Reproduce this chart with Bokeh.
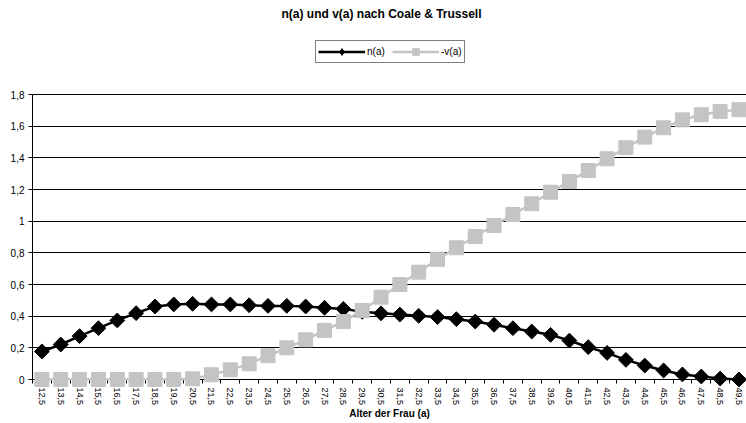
import math
from bokeh.plotting import figure
from bokeh.models import Range1d, FixedTicker, Legend, LegendItem, Label, ColumnDataSource
from bokeh.embed import file_html
from bokeh.resources import INLINE

# ---- data ----
age_labels = ["12,5", "13,5", "14,5", "15,5", "16,5", "17,5", "18,5", "19,5", "20,5", "21,5",
              "22,5", "23,5", "24,5", "25,5", "26,5", "27,5", "28,5", "29,5", "30,5", "31,5",
              "32,5", "33,5", "34,5", "35,5", "36,5", "37,5", "38,5", "39,5", "40,5", "41,5",
              "42,5", "43,5", "44,5", "45,5", "46,5", "47,5", "48,5", "49,5"]
n_a = [0.177, 0.221, 0.274, 0.324, 0.373, 0.419, 0.461, 0.474, 0.478, 0.474,
       0.474, 0.469, 0.465, 0.465, 0.461, 0.453, 0.446, 0.428, 0.418, 0.410,
       0.402, 0.394, 0.381, 0.366, 0.346, 0.324, 0.303, 0.282, 0.246, 0.204,
       0.168, 0.124, 0.088, 0.057, 0.032, 0.019, 0.006, 0.0]
v_a = [0.0, 0.0, 0.0, 0.0, 0.0, 0.0, 0.0, 0.0, 0.004, 0.030,
       0.061, 0.099, 0.150, 0.200, 0.251, 0.310, 0.366, 0.436, 0.520, 0.600,
       0.678, 0.759, 0.832, 0.903, 0.973, 1.042, 1.110, 1.183, 1.251, 1.320,
       1.394, 1.464, 1.531, 1.590, 1.640, 1.672, 1.693, 1.704]
y_ticks = [0, 0.2, 0.4, 0.6, 0.8, 1.0, 1.2, 1.4, 1.6, 1.8]
y_tick_labels = ["0", "0,2", "0,4", "0,6", "0,8", "1", "1,2", "1,4", "1,6", "1,8"]
title_text = "n(a) und v(a) nach Coale & Trussell"
x_title = "Alter der Frau (a)"
series_names = ["n(a)", "-v(a)"]

FONT = "Liberation Sans"
GRAY = "#C4C4C4"
Y_MAX = 1.8
# frame spans the full height above the x axis; 1.8 sits 94px from the top
Y_TOP = Y_MAX * 379.0 / 285.0

xs = list(range(len(age_labels)))
src = ColumnDataSource(dict(x=xs, n=n_a, v=v_a))

p = figure(width=746, height=422, output_backend="svg", toolbar_location=None,
           x_range=Range1d(-0.5, 37.4), y_range=Range1d(0, Y_TOP),
           min_border_left=32, min_border_right=0, min_border_top=0, min_border_bottom=0)
p.outline_line_color = None
p.background_fill_color = "white"
p.border_fill_color = "white"

# grid
p.xgrid.grid_line_color = None
p.ygrid.grid_line_color = "black"
p.ygrid.grid_line_width = 1
p.ygrid.ticker = FixedTicker(ticks=y_ticks)

# y axis
p.yaxis.bounds = (0, Y_MAX)
p.yaxis.ticker = FixedTicker(ticks=y_ticks)
p.yaxis.major_label_overrides = {t: l for t, l in zip(y_ticks, y_tick_labels)}
p.yaxis.major_label_text_font = FONT
p.yaxis.major_label_text_font_size = "10px"
p.yaxis.major_label_text_color = "black"
p.yaxis.axis_line_color = "black"
p.yaxis.major_tick_line_color = "black"
p.yaxis.major_tick_out = 4
p.yaxis.major_tick_in = 0
p.yaxis.minor_tick_line_color = None
p.yaxis.major_label_standoff = 4

# x axis
p.xaxis.ticker = FixedTicker(ticks=xs, minor_ticks=[i - 0.5 for i in range(len(xs) + 1)])
p.xaxis.major_label_overrides = {i: l for i, l in enumerate(age_labels)}
p.xaxis.major_label_orientation = "vertical"
p.xaxis.major_label_text_font = FONT
p.xaxis.major_label_text_font_size = "9px"
p.xaxis.major_label_text_color = "black"
p.xaxis.major_label_standoff = 4
p.xaxis.axis_line_color = "black"
p.xaxis.major_tick_out = 0
p.xaxis.major_tick_in = 0
p.xaxis.minor_tick_out = 4
p.xaxis.minor_tick_in = 0
p.xaxis.minor_tick_line_color = "black"
p.xaxis.axis_label = x_title
p.xaxis.axis_label_text_font = FONT
p.xaxis.axis_label_text_font_style = "bold"
p.xaxis.axis_label_text_font_size = "10px"
p.xaxis.axis_label_text_color = "black"
p.xaxis.axis_label_standoff = 0

# series
ln = p.line("x", "n", source=src, line_color="black", line_width=2.5)
# plain diamond (used by the legend), hidden under the larger rotated squares
dm = p.scatter("x", "n", source=src, marker="diamond", size=9,
               fill_color="black", line_color="black")
mk = p.scatter("x", "n", source=src, marker="square", size=10.5, angle=math.pi / 4,
               fill_color="black", line_color="black")
lv = p.line("x", "v", source=src, line_color=GRAY, line_width=2.5)
sv = p.scatter("x", "v", source=src, marker="square", size=14,
               fill_color=GRAY, line_color=GRAY)
for r in (ln, dm, mk, lv, sv):
    r.level = "overlay"

legend = Legend(items=[LegendItem(label=series_names[0], renderers=[ln, dm]),
                       LegendItem(label=series_names[1], renderers=[lv, sv])],
                orientation="horizontal", location=(283, 316),
                padding=2, spacing=7, glyph_width=47, glyph_height=17,
                label_standoff=2, label_width=18, label_height=17,
                label_text_font=FONT, label_text_font_size="10px",
                label_text_color="black",
                border_line_color="black", border_line_width=1,
                background_fill_color="white", background_fill_alpha=1,
                margin=0)
p.add_layout(legend, "center")

title = Label(x=349, y=366, x_units="screen", y_units="screen", text=title_text,
              text_font=FONT, text_font_size="12px", text_font_style="bold",
              text_align="center", text_baseline="middle", text_color="black")
p.add_layout(title)

open("out.html", "w").write(file_html(p, INLINE))
